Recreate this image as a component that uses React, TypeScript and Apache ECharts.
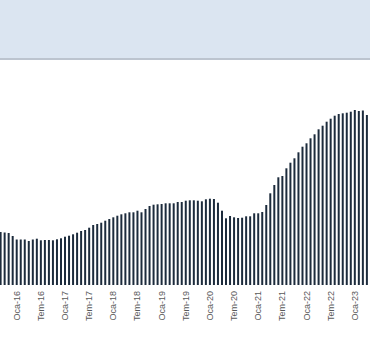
import React, { useEffect, useRef } from "react";
import * as echarts from "echarts";

// Turkish month abbreviations, Sep-2015 .. Apr-2023
const monthNames = ["Oca", "Şub", "Mar", "Nis", "May", "Haz", "Tem", "Ağu", "Eyl", "Eki", "Kas", "Ara"];
const categories: string[] = [];
for (let y = 2015; y <= 2023; y++) {
  for (let m = 0; m < 12; m++) {
    if (y === 2015 && m < 8) continue;
    if (y === 2023 && m > 3) continue;
    categories.push(`${monthNames[m]}-${String(y).slice(2)}`);
  }
}

// bar heights (arbitrary index units)
const values = [
  53, 52.5, 52, 49,
  45.5, 45.5, 45.5, 44, 45.5, 46.3, 44.7, 45, 45, 44.7, 45.7, 46.7,
  48.3, 49.3, 50.7, 52.3, 54, 55, 57.3, 60, 61, 62.3, 64.3, 66,
  67.7, 69.3, 70.7, 71.7, 72.7, 72.7, 74.3, 72.7, 76, 79, 80.3, 80.7,
  81, 81.7, 81.7, 81.7, 83, 83, 84.3, 84.7, 84.7, 84.3, 83.7, 85.7,
  86.3, 86, 82.3, 74.3, 66.7, 69, 67.7, 67, 67.3, 68.7, 68.7, 71.7,
  71.7, 73, 80, 91.7, 100, 107.7, 109, 116.7, 122.3, 126.7, 132.7, 138.3,
  141.7, 146.7, 150.7, 155.7, 159.3, 163.3, 166.3, 169.3, 171, 171.7, 172.3, 173.3,
  175, 174, 174.5, 170,
];

export default function App() {
  const ref = useRef<HTMLDivElement>(null);
  useEffect(() => {
    if (!ref.current) return;
    const chart = echarts.init(ref.current, null, { renderer: "svg" });
    chart.setOption({
      animation: false,
      backgroundColor: "#ffffff",
      graphic: [
        { type: "rect", shape: { x: 0, y: 0, width: 420, height: 58 }, style: { fill: "#dbe5f1" }, silent: true },
        { type: "rect", shape: { x: 0, y: 58, width: 420, height: 2 }, style: { fill: "#bcc4cf" }, silent: true },
      ],
      grid: { left: 18.6, width: 370.3, top: 85, bottom: 75 },
      xAxis: {
        type: "category",
        data: categories,
        axisLine: { show: false },
        axisTick: { show: false },
        axisLabel: {
          rotate: 90,
          fontSize: 9,
          color: "#595959",
          fontFamily: "Liberation Sans, Arial, sans-serif",
          margin: 6,
          interval: (_i: number, v: string) => v.startsWith("Oca") || v.startsWith("Tem"),
        },
      },
      yAxis: { type: "value", min: 0, max: 200, show: false, splitLine: { show: false } },
      series: [
        {
          type: "bar",
          data: values,
          barWidth: 2,
          itemStyle: { color: "#1c2b3c" },
        },
      ],
    });
    return () => chart.dispose();
  }, []);
  return (
    <div style={{ position: "fixed", left: 0, top: 0, width: 370, height: 360, overflow: "hidden", background: "#fff" }}>
      <div ref={ref} style={{ position: "absolute", left: -20, top: 0, width: 410, height: 360 }} />
    </div>
  );
}
